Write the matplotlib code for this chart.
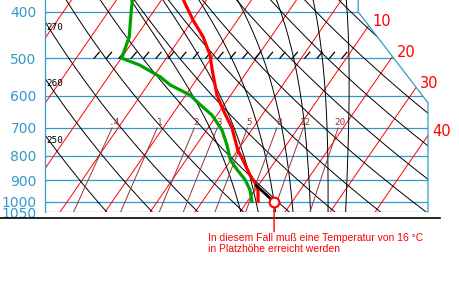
import numpy as np
import matplotlib
matplotlib.use('Agg')
import matplotlib.pyplot as plt
from matplotlib import patheffects
from matplotlib.patches import Polygon

# --- sounding ---
temp_p = [377, 416, 451, 492, 529, 597, 642, 700, 779, 809, 878, 913, 944, 1005]
temp_t = [-35.2, -29.9, -25.1, -20.8, -18.0, -13.1, -9.4, -4.7, 0.0, 2.1, 6.5, 8.9, 10.6, 12.6]
dew_p = [377, 400, 451, 500, 517, 547, 569, 597, 626, 658, 707, 760, 816, 857, 899, 944, 1005]
dew_t = [-46.5, -44.9, -41.5, -39.9, -34.8, -28.5, -25.0, -19.1, -15.3, -11.1, -6.6, -3.2, -0.2, 2.9, 6.2, 8.8, 11.3]

surface_t = 16
surface_p = 1000

# --- diagram grid ---
isobars = [400, 500, 600, 700, 800, 900, 1000, 1050]
isotherms = [-60, -50, -40, -30, -20, -10, 0, 10, 20, 30, 40]
isotherm_labels = [10, 20, 30, 40]
thetas = [250, 260, 270, 280, 290, 300, 310, 320, 330, 340, 350, 360, 370]
theta_labels = [250, 260, 270]
moist_t0 = [8, 12, 16, 20, 24, 28, 32]
mixing = [0.4, 1, 2, 3, 5, 8, 12, 20]
mixing_labels = ['.4', '1', '2', '3', '5', '8', '12', '20']

note = 'In diesem Fall muß eine Temperatur von 16 °C\nin Platzhöhe erreicht werden'

BLUE = '#3399cc'
BROWN = '#993333'
SKEW = 31.8
KAPPA = 0.2857
P_TOP = 377.6
X_LEFT, X_RIGHT = -34.9, 50.2
# right edge of the diagram (skewed x, pressure)
BR_X = [34.7, 34.7, 50.2, 50.2]
BR_P = [P_TOP, 400, 620, 1050]


def skx(t, p):
    return np.asarray(t, dtype=float) + SKEW * np.log(1000.0 / np.asarray(p, dtype=float))


def border_x(p):
    return np.interp(np.log(p), np.log(BR_P), BR_X)


def dtdlnp(T, p):
    es = 6.112 * np.exp(17.67 * (T - 273.15) / (T - 29.65))
    rs = 0.622 * es / (p - es)
    return (287.04 * T + 2.501e6 * rs) / (1005.7 + 2.501e6 ** 2 * rs * 0.622 / (287.04 * T ** 2))


def moist_adiabat(t0):
    out = []
    for lnp_end, n in ((np.log(370.0), 300), (np.log(1050.0), 30)):
        lnp = np.linspace(np.log(1000.0), lnp_end, n)
        T = t0 + 273.15
        ts = [T]
        for i in range(n - 1):
            h = lnp[i + 1] - lnp[i]
            p0 = np.exp(lnp[i])
            k1 = dtdlnp(T, p0)
            k2 = dtdlnp(T + h * k1 / 2, p0 * np.exp(h / 2))
            k3 = dtdlnp(T + h * k2 / 2, p0 * np.exp(h / 2))
            k4 = dtdlnp(T + h * k3, p0 * np.exp(h))
            T = T + h * (k1 + 2 * k2 + 2 * k3 + k4) / 6
            ts.append(T)
        out.append((np.exp(lnp), np.array(ts) - 273.15))
    (pu, tu), (pd, td) = out
    return np.concatenate([pd[::-1], pu[1:]]), np.concatenate([td[::-1], tu[1:]])


fig = plt.figure(figsize=(4.6, 3.0), dpi=100)
ax = fig.add_axes([45 / 460, 88 / 300, 383 / 460, 212 / 300])
ax.set_yscale('log')
ax.set_xlim(X_LEFT, X_RIGHT)
ax.set_ylim(1050, P_TOP)

clip = Polygon([(X_LEFT, P_TOP)] + list(zip(BR_X, BR_P)) + [(X_LEFT, 1050)],
               closed=True, transform=ax.transData, facecolor='none', edgecolor='none')
ax.add_patch(clip)


def clipped(lines):
    for ln in lines:
        ln.set_clip_path(clip)
    return lines


pp = np.exp(np.linspace(np.log(1050), np.log(370), 200))

# isobars
for p in isobars:
    clipped(ax.plot([X_LEFT, X_RIGHT], [p, p], color=BLUE, lw=0.9))

# isotherms
for t in isotherms:
    clipped(ax.plot(skx(t, pp), pp, color='red', lw=0.7))
for t in isotherm_labels:
    diff = skx(t, pp) - border_x(pp)
    pc = np.interp(0, diff, pp)
    ax.annotate(str(t), xy=(border_x(pc), pc), xytext=(4, 4), textcoords='offset pixels',
                ha='left', va='center', color='red', fontsize=10.5, annotation_clip=False)

# dry adiabats
for th in thetas:
    tt = th * (pp / 1000.0) ** KAPPA - 273.15
    clipped(ax.plot(skx(tt, pp), pp, color='black', lw=0.7))
    if th in theta_labels:
        xs = skx(tt, pp)
        pc = np.interp(X_LEFT, xs[::-1], pp[::-1])
        ax.annotate(str(th), xy=(X_LEFT, pc), xytext=(1, -1), textcoords='offset pixels',
                    ha='left', va='top', fontsize=6.7, family='DejaVu Sans Mono')

# moist adiabats
for t0 in moist_t0:
    mp, mt = moist_adiabat(t0)
    clipped(ax.plot(skx(mt, mp), mp, color='black', lw=0.7))

# mixing ratio lines
pw = np.exp(np.linspace(np.log(1050), np.log(700), 50))
for w, lab in zip(mixing, mixing_labels):
    e = w * pw / (622.0 + w)
    a = np.log(e / 6.112)
    td = 243.5 * a / (17.67 - a)
    clipped(ax.plot(skx(td, pw), pw, color=BROWN, lw=0.7))
    ax.annotate(lab, xy=(skx(td[-1], 700), 700), xytext=(2, 1), textcoords='offset pixels',
                ha='center', va='bottom', color=BROWN, fontsize=6.7, family='DejaVu Sans Mono')

# hatched 500 hPa mark
ax.plot([-25.3, 32.4], [500, 500], color='black', lw=0.9,
        path_effects=[patheffects.TickedStroke(spacing=8.6, angle=50, length=0.65)])

# border of diagram
ax.plot(BR_X, BR_P, color=BLUE, lw=0.9, clip_on=False)

# sounding
clipped(ax.plot(skx(dew_t, dew_p), dew_p, color='#00a000', lw=2.3, solid_capstyle='butt'))
clipped(ax.plot(skx(temp_t, temp_p), temp_p, color='red', lw=2.3, solid_capstyle='butt'))

# surface parcel up to the temperature curve
pc_ = np.exp(np.linspace(np.log(surface_p), np.log(800), 200))
parcel = (surface_t + 273.15) * (pc_ / surface_p) ** KAPPA - 273.15
env = np.interp(pc_, temp_p, temp_t)
stop = np.argmax(parcel - env < 0)
ax.plot(skx(parcel[:stop], pc_[:stop]), pc_[:stop], color='black', lw=2, zorder=4)
ax.plot(skx(surface_t, surface_p), surface_p, 'o', ms=7, mfc='white', mec='red', mew=1.5,
        zorder=5, clip_on=False)

ax.annotate('', xy=(skx(surface_t, surface_p), surface_p), xytext=(0, -30),
            textcoords='offset pixels',
            arrowprops=dict(arrowstyle='-', color='red', lw=1, shrinkA=0, shrinkB=3.5),
            annotation_clip=False)
ax.annotate(note, xy=(skx(surface_t, surface_p), surface_p), xytext=(-66, -31),
            textcoords='offset pixels', ha='left', va='top', color='red', fontsize=7.5,
            family='Liberation Sans', linespacing=1.15, annotation_clip=False)

# ground line
ax.axhline(1080, xmin=-45 / 383, xmax=395 / 383, color='black', lw=1.2, clip_on=False)

ax.set_xticks([])
ax.set_yticks(isobars)
ax.set_yticklabels([str(p) for p in isobars])
ax.yaxis.set_minor_locator(matplotlib.ticker.NullLocator())
ax.tick_params(axis='y', length=0, pad=6, labelcolor=BLUE, labelsize=10)
for s in ['top', 'right', 'bottom']:
    ax.spines[s].set_visible(False)
ax.spines['left'].set_color(BLUE)
ax.spines['left'].set_linewidth(0.9)

fig.savefig('out.png', dpi=100, facecolor='white')
